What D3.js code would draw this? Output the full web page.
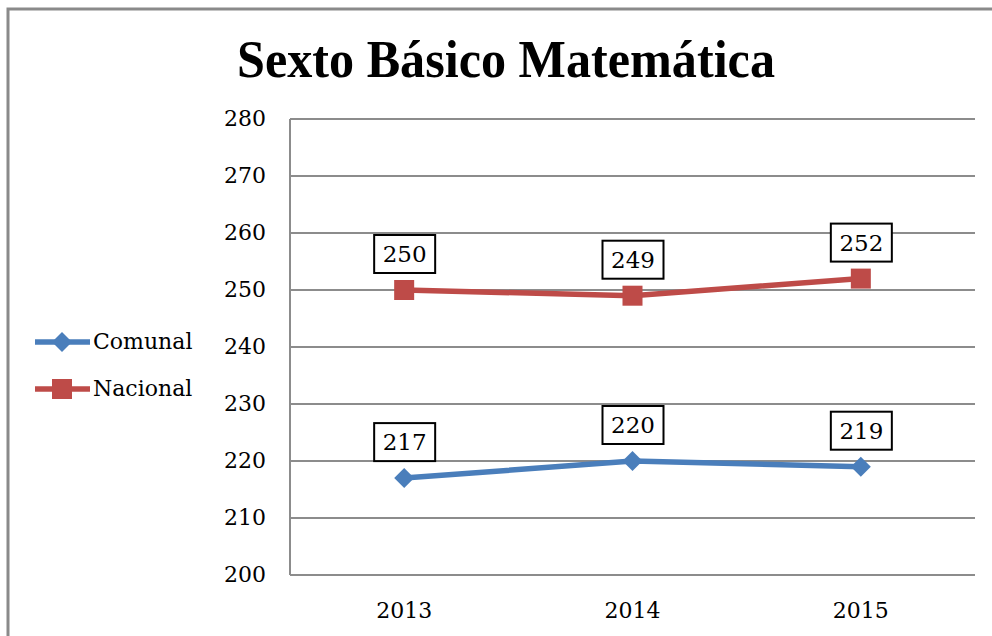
<!DOCTYPE html>
<html>
<head>
  <meta charset="utf-8">
  <title>Sexto Básico Matemática</title>
  <script src="https://d3js.org/d3.v7.min.js"></script>
  <style>
    body { margin: 0; background: #fff; }
    svg text { font-family: "DejaVu Serif", "Liberation Serif", serif; fill: #000; }
  </style>
</head>
<body>
  <svg id="chart" width="992" height="636"></svg>
  <script>
    // data
    var years = ["2013", "2014", "2015"];
    var comunal = [217, 220, 219];
    var nacional = [250, 249, 252];
    var yTicks = [200, 210, 220, 230, 240, 250, 260, 270, 280];

    var series = [
      { name: "Comunal", values: comunal, color: "#4A7EBB", shape: "diamond" },
      { name: "Nacional", values: nacional, color: "#BE4B48", shape: "square" }
    ];

    var svg = d3.select("#chart");

    /* outer frame (right and bottom fall outside the picture) */
    svg.append("path")
       .attr("d", "M8,640 L8,9 L1000,9")
       .attr("fill", "none")
       .attr("stroke", "#8a8a8a")
       .attr("stroke-width", 3);

    var plotL = 290, plotR = 975, plotT = 119, plotB = 575;

    var x = d3.scaleBand().domain(years).range([plotL, plotR]);
    var y = d3.scaleLinear().domain([200, 280]).range([plotB, plotT]);

    /* title */
    svg.append("text")
       .attr("x", 506)
       .attr("y", 77)
       .attr("text-anchor", "middle")
       .style("font-family", "'Liberation Serif', serif")
       .style("font-weight", "bold")
       .style("font-size", "52px")
       .attr("textLength", 538)
       .attr("lengthAdjust", "spacingAndGlyphs")
       .text("Sexto Básico Matemática");

    /* gridlines */
    svg.append("g")
       .selectAll("line")
       .data(yTicks)
       .enter().append("line")
       .attr("x1", plotL).attr("x2", plotR)
       .attr("y1", function(d) { return y(d); })
       .attr("y2", function(d) { return y(d); })
       .attr("stroke", "#8c8c8c")
       .attr("stroke-width", 2);

    svg.append("line")
       .attr("x1", plotL).attr("x2", plotL)
       .attr("y1", plotT).attr("y2", plotB)
       .attr("stroke", "#8c8c8c")
       .attr("stroke-width", 2);

    /* y tick labels */
    svg.append("g")
       .selectAll("text")
       .data(yTicks)
       .enter().append("text")
       .attr("x", 266)
       .attr("y", function(d) { return y(d); })
       .attr("dy", "0.3em")
       .attr("text-anchor", "end")
       .style("font-size", "22px")
       .text(function(d) { return d; });

    /* x labels */
    svg.append("g")
       .selectAll("text")
       .data(years)
       .enter().append("text")
       .attr("x", function(d) { return x(d) + x.bandwidth() / 2; })
       .attr("y", 618)
       .attr("text-anchor", "middle")
       .style("font-size", "22px")
       .text(function(d) { return d; });

    var line = d3.line()
                 .x(function(d, i) { return x(years[i]) + x.bandwidth() / 2; })
                 .y(function(d) { return y(d); });

    function marker(g, s, cx, cy) {
      if (s.shape === "diamond") {
        g.append("path")
         .attr("d", "M" + cx + "," + (cy - 10) + " L" + (cx + 10) + "," + cy +
                    " L" + cx + "," + (cy + 10) + " L" + (cx - 10) + "," + cy + "Z")
         .attr("fill", s.color);
      } else {
        g.append("rect")
         .attr("x", cx - 10).attr("y", cy - 10)
         .attr("width", 20).attr("height", 20)
         .attr("fill", s.color);
      }
    }

    series.forEach(function(s) {
      var g = svg.append("g");
      g.append("path")
       .datum(s.values)
       .attr("d", line)
       .attr("fill", "none")
       .attr("stroke", s.color)
       .attr("stroke-width", 5.5);

      s.values.forEach(function(v, i) {
        var cx = x(years[i]) + x.bandwidth() / 2, cy = y(v);
        marker(g, s, cx, cy);

        /* boxed data label */
        g.append("rect")
         .attr("x", cx - 30).attr("y", cy - 55)
         .attr("width", 61).attr("height", 38)
         .attr("fill", "#fff")
         .attr("stroke", "#000")
         .attr("stroke-width", 2);
        g.append("text")
         .attr("x", cx + 0.5)
         .attr("y", cy - 36)
         .attr("dy", "0.35em")
         .attr("text-anchor", "middle")
         .style("font-size", "23px")
         .text(v);
      });
    });

    /* legend */
    var legend = svg.append("g");
    series.forEach(function(s, i) {
      var ly = 342 + i * 47;
      legend.append("line")
            .attr("x1", 35).attr("x2", 90)
            .attr("y1", ly).attr("y2", ly)
            .attr("stroke", s.color)
            .attr("stroke-width", 5.5);
      marker(legend, s, 62, ly);
      legend.append("text")
            .attr("x", 93)
            .attr("y", ly)
            .attr("dy", "0.3em")
            .style("font-size", "22px")
            .text(s.name);
    });
  </script>
</body>
</html>
